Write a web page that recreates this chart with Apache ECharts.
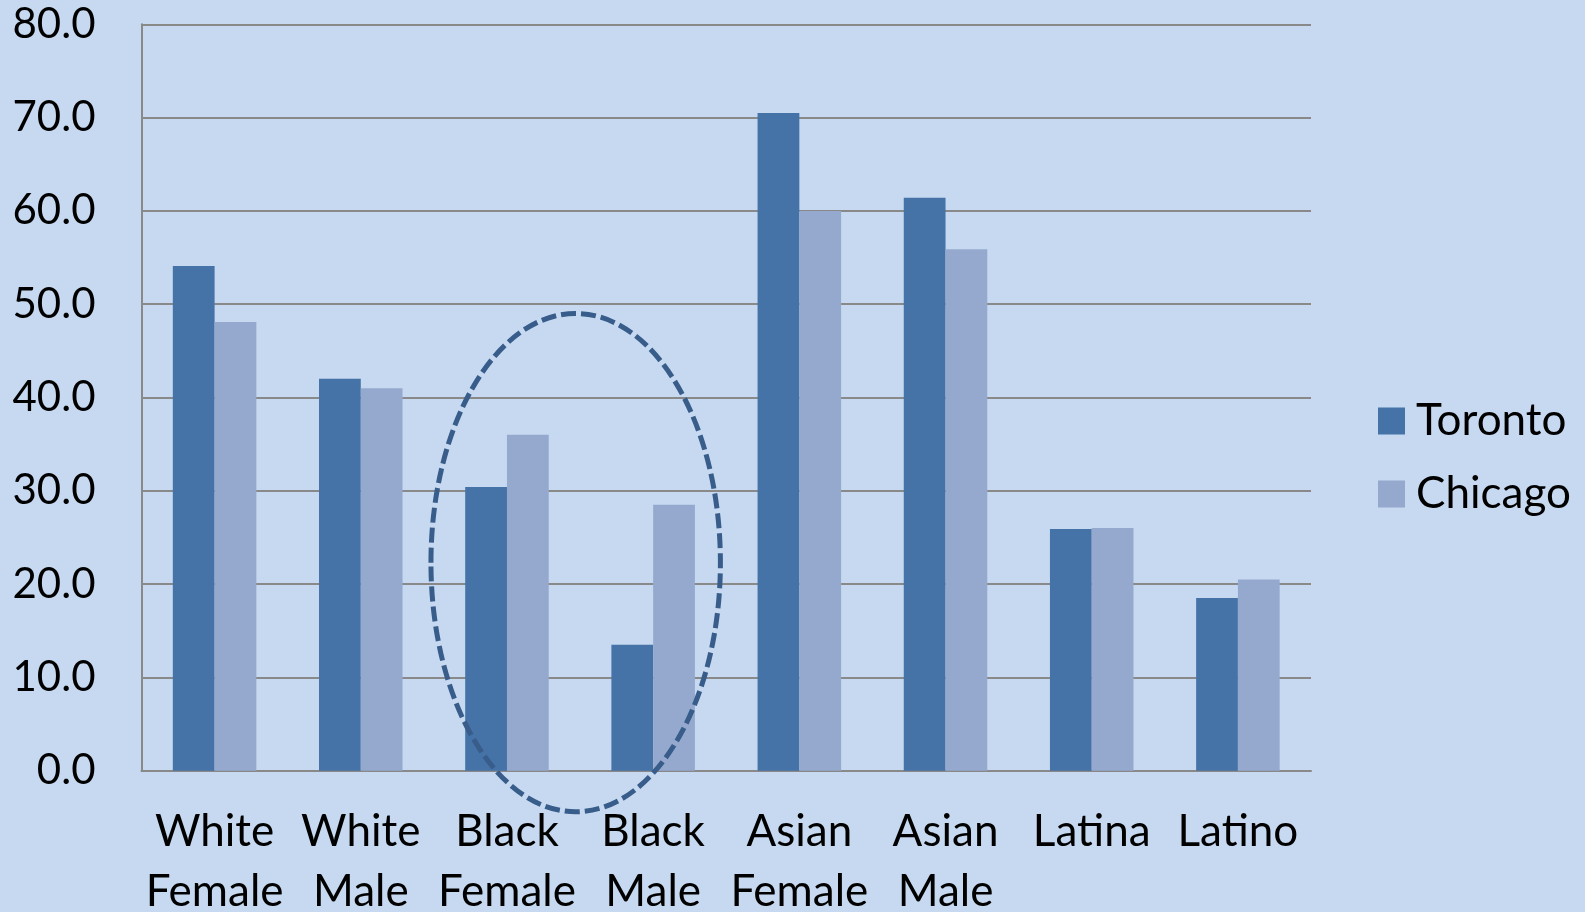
<!DOCTYPE html>
<html>
<head>
<meta charset="utf-8">
<script src="https://cdn.jsdelivr.net/npm/echarts@6/dist/echarts.min.js"></script>
<style>
html,body{margin:0;padding:0;background:#C6D9F0;}
#chart{width:1585px;height:912px;}
</style>
</head>
<body>
<div id="chart"></div>
<script>
var categories = ['White\nFemale', 'White\nMale', 'Black\nFemale', 'Black\nMale', 'Asian\nFemale', 'Asian\nMale', 'Latina', 'Latino'];
var toronto = [54.1, 42.0, 30.4, 13.5, 70.5, 61.4, 25.9, 18.5];
var chicago = [48.1, 41.0, 36.0, 28.5, 60.0, 55.9, 26.0, 20.5];
var seriesNames = ['Toronto', 'Chicago'];
var yTicks = { min: 0, max: 80, interval: 10 };
// annotation ellipse in data units: centre category index, centre value, radii
var ellipseData = { cx: 2.47, cy: 22.3, rx: 0.99, ry: 26.7 };

var FONT = 'Lato';
var chart = echarts.init(document.getElementById('chart'), null, { renderer: 'canvas' });
var option = {
  backgroundColor: '#C6D9F0',
  animation: false,
  grid: { left: 141.5, right: 274, top: 24.3, bottom: 141.3, containLabel: false, outerBoundsMode: 'none' },
  legend: {
    orient: 'vertical',
    left: 1378,
    top: 399,
    padding: 0,
    itemWidth: 27,
    itemHeight: 27,
    itemGap: 29,
    icon: 'rect',
    textStyle: { fontFamily: FONT, fontSize: 44, color: '#000', lineHeight: 40, padding: [0, 0, 0, 6] },
    data: seriesNames
  },
  xAxis: {
    type: 'category',
    data: categories,
    axisLine: { show: true, lineStyle: { color: '#898989', width: 2 } },
    axisTick: { show: false },
    axisLabel: { fontFamily: FONT, fontSize: 44, color: '#000', lineHeight: 60, margin: 31, interval: 0 },
    splitLine: { show: false }
  },
  yAxis: {
    type: 'value',
    min: yTicks.min, max: yTicks.max, interval: yTicks.interval,
    axisLine: { show: true, lineStyle: { color: '#898989', width: 2 } },
    axisTick: { show: false },
    axisLabel: { fontFamily: FONT, fontSize: 42, color: '#000', margin: 46, formatter: function (v) { return v.toFixed(1); } },
    splitLine: { show: true, lineStyle: { color: '#898989', width: 2 } }
  },
  series: [
    { name: seriesNames[0], type: 'bar', data: toronto, barGap: '0%', barCategoryGap: '42.857%', itemStyle: { color: '#4572A7' } },
    { name: seriesNames[1], type: 'bar', data: chicago, barGap: '0%', barCategoryGap: '42.857%', itemStyle: { color: '#95A9CF' } }
  ]
};
chart.setOption(option);

// place annotation ellipse using the axes' own scales
var p0 = chart.convertToPixel({ xAxisIndex: 0, yAxisIndex: 0 }, [0, 0]);
var p1 = chart.convertToPixel({ xAxisIndex: 0, yAxisIndex: 0 }, [1, 10]);
var catW = p1[0] - p0[0];
var unitH = (p0[1] - p1[1]) / 10;
var cx = p0[0] + ellipseData.cx * catW;
var cy = p0[1] - ellipseData.cy * unitH;
chart.setOption({
  graphic: [{
    type: 'ellipse',
    z: 100,
    shape: { cx: cx, cy: cy, rx: ellipseData.rx * catW, ry: ellipseData.ry * unitH },
    style: { fill: null, stroke: '#385D8A', lineWidth: 5, lineDash: [15, 5] }
  }]
});
</script>
</body>
</html>
